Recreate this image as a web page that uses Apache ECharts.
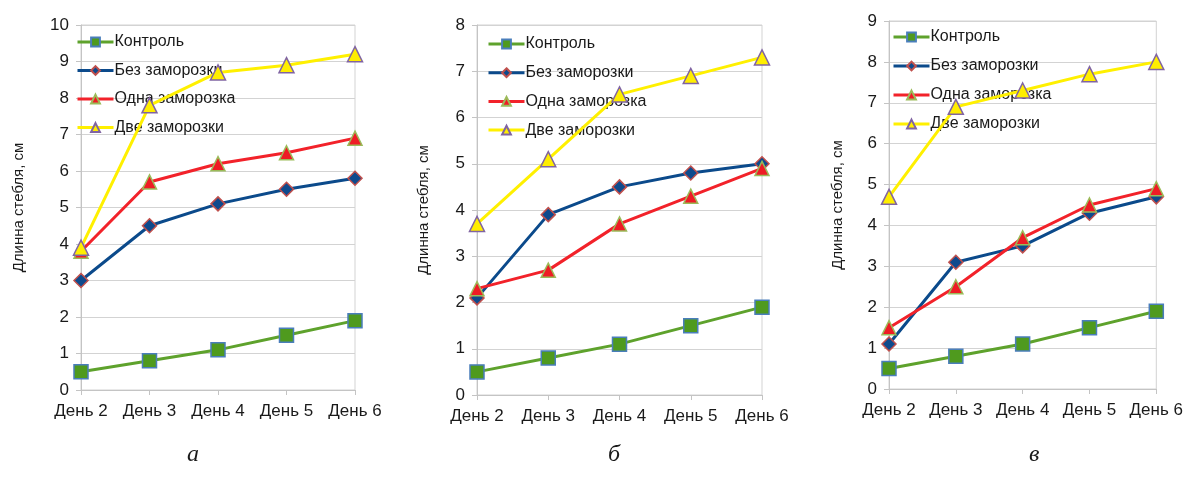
<!DOCTYPE html>
<html>
<head>
<meta charset="utf-8">
<script src="https://cdn.jsdelivr.net/npm/echarts@6/dist/echarts.min.js"></script>
<style>
  html, body { margin: 0; padding: 0; background: #ffffff; }
  #chart { width: 1186px; height: 489px; }
</style>
</head>
<body>
<div id="chart"></div>
<script>
// Stem length over days for three experiments (а, б, в)
const days = ['День 2', 'День 3', 'День 4', 'День 5', 'День 6'];
const seriesNames = ['Контроль', 'Без заморозки', 'Одна заморозка', 'Две заморозки'];
const panelLetters = ['а', 'б', 'в'];
const yAxisName = 'Длинна стебля, см';
const yMaxes = [10, 8, 9];

const controlA = [0.5, 0.8, 1.1, 1.5, 1.9];
const noFrostA = [3.0, 4.5, 5.1, 5.5, 5.8];
const oneFrostA = [3.8, 5.7, 6.2, 6.5, 6.9];
const twoFrostA = [3.9, 7.8, 8.7, 8.9, 9.2];

const controlB = [0.5, 0.8, 1.1, 1.5, 1.9];
const noFrostB = [2.1, 3.9, 4.5, 4.8, 5.0];
const oneFrostB = [2.3, 2.7, 3.7, 4.3, 4.9];
const twoFrostB = [3.7, 5.1, 6.5, 6.9, 7.3];

const controlC = [0.5, 0.8, 1.1, 1.5, 1.9];
const noFrostC = [1.1, 3.1, 3.5, 4.3, 4.7];
const oneFrostC = [1.5, 2.5, 3.7, 4.5, 4.9];
const twoFrostC = [4.7, 6.9, 7.3, 7.7, 8.0];

const panelData = [
  [controlA, noFrostA, oneFrostA, twoFrostA],
  [controlB, noFrostB, oneFrostB, twoFrostB],
  [controlC, noFrostC, oneFrostC, twoFrostC]
];

// Visual style of each series: line colour, marker shape, marker fill and outline
const seriesStyles = [
  { line: '#5ea22c', symbol: 'rect', size: 14, fill: '#4f9a1e', border: '#4a7ebb' },
  { line: '#0b4a8b', symbol: 'diamond', size: 14, fill: '#0e4a8d', border: '#c0504d' },
  { line: '#f2222a', symbol: 'triangle', size: 14, fill: '#ee1c25', border: '#9bbb59' },
  { line: '#fff000', symbol: 'triangle', size: 15, fill: '#ffee00', border: '#8064a2' }
];

// Plot-area geometry for each panel
const grids = [
  { left: 81, top: 25, width: 274, height: 365 },
  { left: 477, top: 25, width: 285, height: 370 },
  { left: 889, top: 21, width: 270, height: 368 }
];
const legendPos = [
  { left: 76, top: 34, itemGap: 12.5 },
  { left: 487, top: 36, itemGap: 12.7 },
  { left: 892, top: 29, itemGap: 13 }
];
const nameGaps = [55, 46, 44];
const captionPos = [{ x: 188, y: 452 }, { x: 609, y: 452 }, { x: 1030, y: 452 }];

const font = "'Liberation Sans', Arial, sans-serif";
const textColor = '#1a1a1a';
const gridColor = '#d3d3d3';

const option = {
  backgroundColor: '#ffffff',
  animation: false,
  grid: grids.map(g => ({
    left: g.left, top: g.top, width: g.width, height: g.height,
    show: true, borderColor: gridColor, borderWidth: 1, containLabel: false
  })),
  xAxis: grids.map((g, i) => ({
    type: 'category', gridIndex: i, data: days, boundaryGap: false,
    axisLine: { lineStyle: { color: '#c4c4c4', width: 1 } },
    axisTick: { show: true, interval: 0, length: 5, lineStyle: { color: '#c4c4c4' } },
    axisLabel: { color: textColor, fontSize: 17, fontFamily: font, margin: 13, interval: 0,
      hideOverlap: false },
    splitLine: { show: false }
  })),
  yAxis: grids.map((g, i) => ({
    type: 'value', gridIndex: i, min: 0, max: yMaxes[i], interval: 1,
    name: yAxisName, nameLocation: 'middle', nameRotate: 90, nameGap: nameGaps[i],
    nameTextStyle: { color: textColor, fontSize: 15, fontFamily: font },
    axisLine: { show: true, lineStyle: { color: '#c4c4c4', width: 1 } },
    axisTick: { show: true, length: 5, lineStyle: { color: '#c4c4c4' } },
    axisLabel: { color: textColor, fontSize: 17, fontFamily: font, margin: 12 },
    splitLine: { show: true, lineStyle: { color: gridColor, width: 1 } }
  })),
  legend: legendPos.map(p => ({
    orient: 'vertical', left: p.left, top: p.top, itemGap: p.itemGap,
    itemWidth: 36, itemHeight: 11, padding: 0,
    lineStyle: { width: 3 },
    textStyle: { color: textColor, fontSize: 16, fontFamily: font, padding: [0, 0, 0, -4] },
    data: seriesNames, selectedMode: false
  })),
  title: captionPos.map((p, i) => ({
    text: panelLetters[i], left: p.x - 6, top: p.y - 14,
    textStyle: { fontFamily: "'Liberation Serif', 'Times New Roman', serif", fontStyle: 'italic',
      fontWeight: 'normal', fontSize: 24, color: textColor }
  })),
  series: []
};

panelData.forEach((panel, gi) => {
  panel.forEach((values, si) => {
    const st = seriesStyles[si];
    option.series.push({
      type: 'line', name: seriesNames[si], xAxisIndex: gi, yAxisIndex: gi,
      data: values, symbol: st.symbol, symbolSize: st.size, showSymbol: true,
      lineStyle: { color: st.line, width: 3 },
      itemStyle: { color: st.fill, borderColor: st.border, borderWidth: 1.5 },
      z: 2 + si
    });
  });
});

const chart = echarts.init(document.getElementById('chart'), null, { renderer: 'canvas' });
chart.setOption(option);
</script>
</body>
</html>
